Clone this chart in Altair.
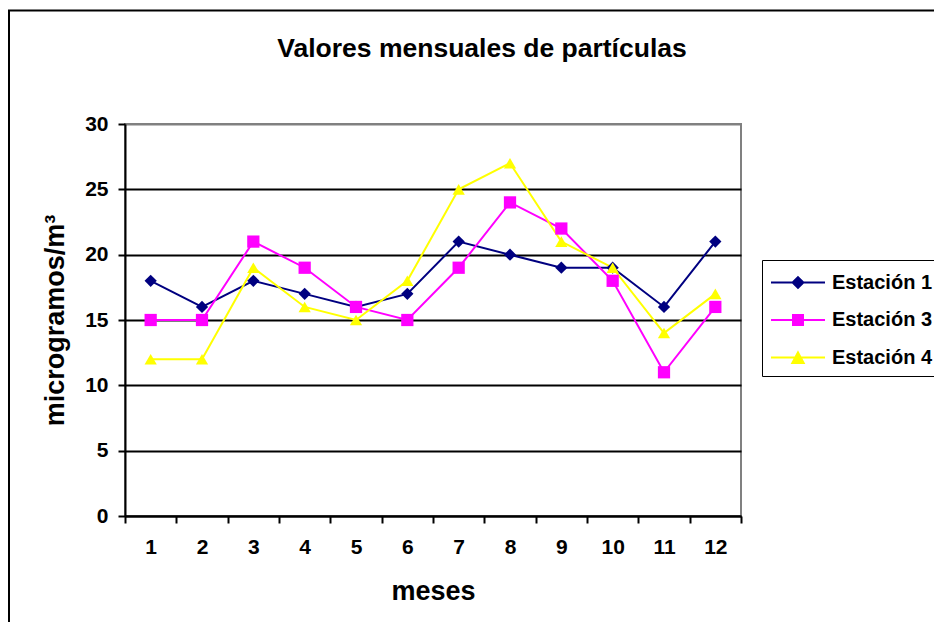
import altair as alt
import pandas as pd

# ---- data ----
meses = [1, 2, 3, 4, 5, 6, 7, 8, 9, 10, 11, 12]
series = ["Estación 1", "Estación 3", "Estación 4"]
est1 = [18, 16, 18, 17, 16, 17, 21, 20, 19, 19, 16, 21]
est3 = [15, 15, 21, 19, 16, 15, 19, 24, 22, 18, 11, 16]
est4 = [12, 12, 19, 16, 15, 18, 25, 27, 21, 19, 14, 17]
y_ticks = [0, 5, 10, 15, 20, 25, 30]

titulo = "Valores mensuales de partículas"
x_titulo = "meses"
y_titulo = "microgramos/m³"

# ---- styles ----
serie_colors = ["#000080", "#FF00FF", "#FFFF00"]
marker_shapes = ["diamond", "square", "triangle-up"]
marker_sizes = [150, 150, 180]
legend_symbols = [
    "M-1,0H3M1,-0.4L1.4,0L1,0.4L0.6,0Z",
    "M-1,0H3M0.63,-0.37H1.37V0.37H0.63Z",
    "M-1,0H3M1,-0.38L1.42,0.4H0.58Z",
]
FONT = "Liberation Sans"

rows = []
for name, vals in zip(series, [est1, est3, est4]):
    for m, v in zip(meses, vals):
        rows.append({"mes": m, "valor": v, "serie": name})
df = pd.DataFrame(rows)

x_enc = alt.X(
    "mes:O",
    scale=alt.Scale(type="band", paddingInner=0, paddingOuter=0),
    axis=alt.Axis(
        title=x_titulo, labelAngle=0, tickBand="extent", grid=False,
        domainColor="black", domainWidth=2, tickColor="black", tickWidth=2, tickSize=7,
        labelFont=FONT, labelFontSize=21, labelFontWeight="bold", labelColor="black",
        labelPadding=13, labelBaseline="top",
        titleFont=FONT, titleFontSize=27, titleFontWeight="bold", titleColor="black",
        titleBaseline="alphabetic", titleY=83,
    ),
)
y_enc = alt.Y(
    "valor:Q",
    scale=alt.Scale(domain=[0, 30], nice=False),
    axis=alt.Axis(
        title=y_titulo, values=y_ticks, grid=True,
        gridColor={"condition": {"test": "datum.value === 30", "value": "#808080"}, "value": "black"},
        gridWidth=2,
        domainColor="black", domainWidth=2, tickColor="black", tickWidth=2, tickSize=7,
        labelFont=FONT, labelFontSize=21, labelFontWeight="bold", labelColor="black",
        labelPadding=10,
        titleFont=FONT, titleFontSize=27, titleFontWeight="bold", titleColor="black",
        titleAngle=-90, titleBaseline="alphabetic", titleX=-62, titleY=196, titleAlign="center",
    ),
)

color_scale = alt.Scale(domain=series, range=serie_colors)

lines = alt.Chart(df).mark_line(strokeWidth=2).encode(
    x=x_enc, y=y_enc,
    color=alt.Color("serie:N", scale=color_scale, legend=None),
)

points = alt.Chart(df).mark_point(filled=True, opacity=1).encode(
    x=x_enc, y=y_enc,
    color=alt.Color("serie:N", scale=color_scale, legend=None),
    shape=alt.Shape("serie:N", scale=alt.Scale(domain=series, range=marker_shapes), legend=None),
    size=alt.Size("serie:N", scale=alt.Scale(domain=series, range=marker_sizes), legend=None),
)

leg = alt.Legend(
    title=None, orient="none", legendX=637, legendY=136,
    strokeColor="black", padding=8, rowPadding=12.5,
    symbolSize=729, symbolStrokeWidth=2, labelOffset=33,
    labelFont=FONT, labelFontSize=20, labelFontWeight="bold", labelColor="black",
)

legend_layer = alt.Chart(df).transform_filter("false").mark_point(opacity=1).encode(
    fill=alt.Fill("serie:N", scale=alt.Scale(domain=series, range=serie_colors), legend=leg),
    stroke=alt.Stroke("serie:N", scale=alt.Scale(domain=series, range=serie_colors), legend=leg),
    shape=alt.Shape("serie:N", scale=alt.Scale(domain=series, range=legend_symbols), legend=leg),
)

one = pd.DataFrame({"k": [0]})
border_v = alt.Chart(one).mark_rule(color="black", strokeWidth=2).encode(
    x=alt.value(-116), y=alt.value(-113.5), y2=alt.value(600)
)
border_h = alt.Chart(one).mark_rule(color="black", strokeWidth=2).encode(
    x=alt.value(-117), x2=alt.value(900), y=alt.value(-113.5)
)
title_text = alt.Chart(one).mark_text(
    font=FONT, fontSize=26.5, fontWeight="bold", align="center", baseline="alphabetic", color="black"
).encode(x=alt.value(357), y=alt.value(-67), text=alt.value(titulo))

chart = (
    alt.layer(border_v, border_h, lines, points, legend_layer, title_text)
    .resolve_scale(shape="independent", fill="independent", stroke="independent")
    .properties(
        width=616, height=392,
        padding={"left": 117, "top": 116, "right": 193, "bottom": 106},
        autosize=alt.AutoSizeParams(type="none"),
        background="white",
    )
    .configure_view(fill="#CCFFFF", stroke="#808080", strokeWidth=2)
)

chart.save("out.html", embed_options={"renderer": "svg", "actions": False})
